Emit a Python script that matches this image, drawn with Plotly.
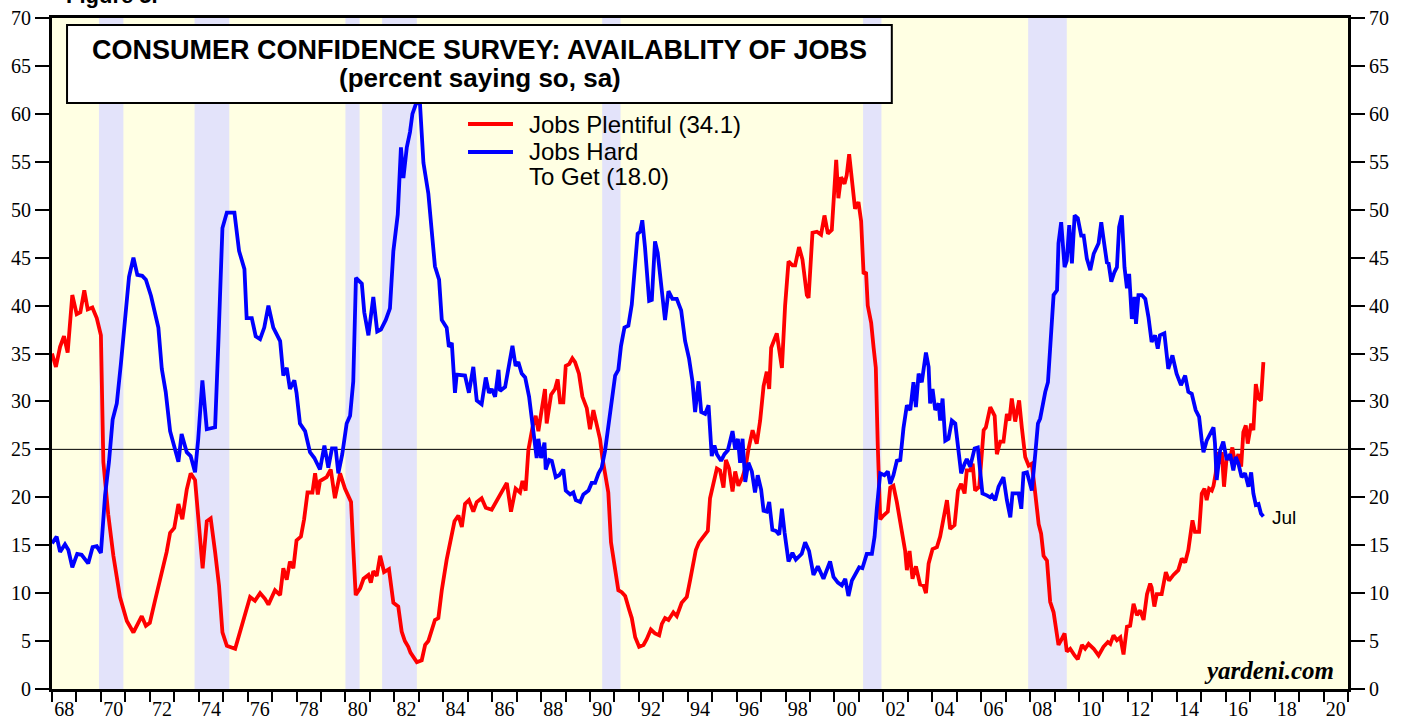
import plotly.graph_objects as go

# ---- data (x = decimal year) ----
plentiful_x = [1968.0,1968.16,1968.33,1968.49,1968.64,1968.83,1969.01,1969.16,1969.32,1969.46,1969.65,1969.83,1970.0,1970.1,1970.3,1970.51,1970.78,1971.06,1971.33,1971.67,1971.84,1972.0,1972.21,1972.49,1972.69,1972.83,1973.0,1973.17,1973.33,1973.51,1973.67,1973.85,1973.98,1974.16,1974.33,1974.49,1974.67,1974.83,1974.97,1975.15,1975.49,1975.76,1976.1,1976.3,1976.51,1976.71,1976.85,1977.12,1977.33,1977.46,1977.6,1977.73,1977.87,1978.0,1978.18,1978.31,1978.45,1978.65,1978.76,1978.87,1978.96,1979.23,1979.4,1979.57,1979.78,1979.98,1980.23,1980.32,1980.42,1980.6,1980.74,1980.94,1981.04,1981.14,1981.28,1981.42,1981.58,1981.78,1981.96,1982.16,1982.3,1982.43,1982.57,1982.66,1982.78,1982.92,1983.12,1983.26,1983.39,1983.53,1983.66,1983.8,1983.94,1984.14,1984.28,1984.46,1984.62,1984.76,1984.89,1985.05,1985.23,1985.37,1985.57,1985.74,1985.98,1986.19,1986.39,1986.6,1986.77,1986.96,1987.14,1987.24,1987.37,1987.48,1987.65,1987.78,1987.89,1988.03,1988.16,1988.23,1988.41,1988.57,1988.68,1988.78,1988.91,1989.01,1989.15,1989.28,1989.39,1989.55,1989.69,1989.87,1990.0,1990.14,1990.28,1990.41,1990.51,1990.62,1990.75,1990.86,1991.03,1991.16,1991.3,1991.44,1991.6,1991.71,1991.85,1992.01,1992.19,1992.32,1992.49,1992.66,1992.83,1992.94,1993.07,1993.21,1993.41,1993.55,1993.75,1993.96,1994.1,1994.23,1994.33,1994.46,1994.64,1994.82,1994.91,1995.05,1995.19,1995.32,1995.46,1995.56,1995.69,1995.83,1995.94,1996.07,1996.24,1996.37,1996.48,1996.65,1996.82,1996.96,1997.1,1997.23,1997.33,1997.41,1997.51,1997.64,1997.85,1997.98,1998.12,1998.28,1998.39,1998.55,1998.69,1998.87,1998.94,1999.1,1999.28,1999.45,1999.59,1999.73,1999.89,1999.99,2000.07,2000.16,2000.27,2000.41,2000.5,2000.6,2000.71,2000.84,2000.98,2001.09,2001.19,2001.29,2001.36,2001.5,2001.6,2001.69,2001.77,2001.87,2002.0,2002.18,2002.28,2002.41,2002.55,2002.73,2002.89,2002.96,2003.07,2003.19,2003.33,2003.5,2003.64,2003.74,2003.85,2004.01,2004.19,2004.32,2004.46,2004.6,2004.73,2004.91,2005.05,2005.18,2005.32,2005.41,2005.55,2005.65,2005.75,2005.92,2006.1,2006.19,2006.37,2006.55,2006.64,2006.78,2006.91,2007.05,2007.15,2007.25,2007.39,2007.55,2007.66,2007.8,2007.94,2008.07,2008.21,2008.35,2008.45,2008.55,2008.69,2008.82,2008.96,2009.05,2009.16,2009.27,2009.41,2009.5,2009.64,2009.82,2009.95,2010.12,2010.25,2010.39,2010.6,2010.8,2011.0,2011.18,2011.28,2011.41,2011.55,2011.69,2011.75,2011.82,2011.96,2012.09,2012.23,2012.37,2012.5,2012.64,2012.78,2012.91,2012.97,2013.08,2013.18,2013.38,2013.55,2013.68,2013.86,2014.06,2014.2,2014.34,2014.47,2014.58,2014.64,2014.74,2014.91,2015.02,2015.13,2015.22,2015.32,2015.43,2015.5,2015.59,2015.67,2015.77,2015.84,2015.93,2016.04,2016.18,2016.27,2016.38,2016.52,2016.63,2016.72,2016.82,2016.9,2017.04,2017.13,2017.23,2017.34,2017.44,2017.54]
plentiful_y = [35.0,33.6,35.7,36.8,35.1,41.1,39.1,39.3,41.6,39.6,39.8,38.7,36.9,23.7,18.2,13.9,9.6,7.1,5.9,7.6,6.6,6.9,9.2,12.0,14.3,16.3,16.8,19.3,17.7,20.8,22.5,21.8,18.2,12.6,17.5,17.8,14.3,10.8,5.9,4.5,4.2,6.5,9.6,9.2,10.0,9.4,8.8,10.3,9.8,12.6,11.4,13.3,12.6,15.5,15.9,17.7,20.5,20.5,22.5,20.3,21.7,22.1,22.9,19.9,22.5,20.9,19.5,14.7,9.8,10.5,11.5,11.9,11.1,12.3,11.8,13.9,12.2,12.5,9.0,8.6,6.0,5.0,4.4,3.8,3.4,2.8,3.0,4.6,5.0,6.2,7.2,7.4,10.3,13.5,15.1,17.5,18.1,16.9,19.3,19.7,18.5,19.5,19.9,18.9,18.7,19.7,20.7,21.5,18.5,20.9,20.5,21.7,20.7,24.9,27.3,28.5,26.9,29.3,31.3,27.7,30.7,31.3,32.3,29.9,29.9,33.7,33.9,34.5,34.1,32.9,30.5,29.3,27.1,29.1,27.3,26.1,24.1,22.5,20.5,15.3,12.1,10.3,10.1,9.7,8.3,7.4,5.4,4.4,4.6,5.2,6.2,5.8,5.6,6.8,7.4,7.2,8.0,7.6,9.0,9.6,11.4,12.9,14.5,15.3,15.9,16.5,19.9,21.7,23.0,22.8,21.0,23.9,23.0,20.6,22.7,21.2,22.1,23.2,25.0,27.0,25.6,28.0,31.6,33.1,31.3,35.6,36.2,37.1,33.5,40.0,44.6,44.2,44.2,46.1,44.8,41.1,40.8,47.6,47.7,47.4,49.4,47.5,47.9,52.1,55.2,51.2,53.4,52.7,53.6,55.8,52.8,50.1,50.8,48.8,43.3,43.5,40.0,38.2,35.6,33.5,25.4,17.7,18.1,18.5,21.0,21.2,19.5,16.6,14.4,12.4,14.4,11.5,12.8,10.9,10.8,10.0,13.1,14.6,14.8,15.9,17.9,19.7,16.7,17.1,20.7,21.4,20.4,22.8,22.8,23.5,20.7,21.1,27.0,27.3,29.4,28.5,24.5,25.8,25.8,28.7,28.0,30.3,27.9,30.1,27.3,24.2,23.3,23.5,20.4,17.2,16.2,13.9,13.4,9.1,8.0,6.6,4.6,5.1,5.8,3.9,4.2,3.5,3.1,4.6,4.2,4.7,4.2,3.5,4.4,4.9,4.7,5.6,5.1,5.4,4.6,3.6,6.5,6.6,8.9,7.7,8.2,7.2,9.9,11.0,10.6,8.6,9.9,9.9,12.2,11.3,11.9,12.4,13.6,13.2,14.5,16.2,17.6,16.4,16.4,20.4,20.9,19.7,20.9,20.7,21.2,22.5,24.7,23.5,24.7,21.1,24.2,24.0,25.2,23.5,24.5,23.2,26.8,27.5,25.6,27.7,27.0,31.8,30.3,30.1,34.1]

hard_x = [1968.0,1968.19,1968.33,1968.53,1968.67,1968.83,1969.03,1969.21,1969.48,1969.66,1969.83,1970.0,1970.17,1970.33,1970.48,1970.65,1970.82,1970.99,1971.15,1971.33,1971.49,1971.69,1971.84,1972.05,1972.35,1972.49,1972.65,1972.83,1973.0,1973.17,1973.3,1973.51,1973.67,1973.85,1973.98,1974.15,1974.33,1974.67,1974.8,1974.97,1975.15,1975.46,1975.65,1975.87,1975.96,1976.17,1976.33,1976.51,1976.68,1976.85,1977.05,1977.33,1977.46,1977.6,1977.73,1977.91,1978.0,1978.14,1978.35,1978.55,1978.73,1978.96,1979.14,1979.3,1979.45,1979.6,1979.71,1979.87,1980.05,1980.19,1980.32,1980.43,1980.67,1980.77,1980.94,1981.14,1981.3,1981.45,1981.65,1981.82,1981.96,1982.14,1982.27,1982.37,1982.51,1982.64,1982.74,1982.92,1983.05,1983.19,1983.39,1983.53,1983.66,1983.83,1983.94,1984.14,1984.23,1984.35,1984.48,1984.55,1984.89,1985.05,1985.23,1985.37,1985.57,1985.74,1985.87,1985.98,1986.12,1986.26,1986.32,1986.53,1986.66,1986.83,1986.96,1987.07,1987.21,1987.35,1987.51,1987.62,1987.73,1987.82,1987.89,1988.0,1988.14,1988.19,1988.33,1988.44,1988.6,1988.74,1988.91,1989.01,1989.19,1989.32,1989.42,1989.6,1989.73,1989.94,1990.07,1990.21,1990.35,1990.48,1990.62,1990.75,1990.89,1991.03,1991.16,1991.27,1991.41,1991.57,1991.71,1991.85,1991.95,1992.05,1992.14,1992.25,1992.42,1992.53,1992.66,1992.77,1992.94,1993.07,1993.21,1993.37,1993.55,1993.73,1993.89,1994.05,1994.19,1994.3,1994.44,1994.55,1994.71,1994.85,1994.98,1995.09,1995.19,1995.36,1995.5,1995.64,1995.83,1995.94,1996.05,1996.14,1996.24,1996.35,1996.48,1996.62,1996.75,1996.86,1997.0,1997.1,1997.23,1997.33,1997.46,1997.6,1997.74,1997.85,1997.96,1998.12,1998.28,1998.42,1998.66,1998.8,1998.96,1999.14,1999.32,1999.55,1999.82,1999.96,2000.14,2000.3,2000.44,2000.57,2000.71,2000.84,2001.01,2001.14,2001.32,2001.53,2001.64,2001.73,2001.87,2002.04,2002.18,2002.28,2002.41,2002.55,2002.69,2002.82,2002.96,2003.1,2003.23,2003.33,2003.44,2003.57,2003.74,2003.85,2003.91,2004.01,2004.12,2004.26,2004.32,2004.42,2004.53,2004.66,2004.8,2004.94,2005.07,2005.18,2005.32,2005.41,2005.55,2005.73,2005.86,2005.96,2006.05,2006.23,2006.37,2006.44,2006.57,2006.71,2006.91,2007.05,2007.19,2007.28,2007.42,2007.53,2007.64,2007.73,2007.87,2007.96,2008.07,2008.21,2008.32,2008.41,2008.51,2008.62,2008.73,2008.86,2008.96,2009.1,2009.16,2009.27,2009.41,2009.5,2009.6,2009.71,2009.82,2009.95,2010.09,2010.19,2010.32,2010.46,2010.6,2010.8,2010.91,2011.0,2011.14,2011.21,2011.32,2011.45,2011.55,2011.64,2011.75,2011.86,2011.96,2012.05,2012.16,2012.27,2012.33,2012.43,2012.57,2012.71,2012.84,2012.97,2013.11,2013.22,2013.31,2013.49,2013.65,2013.82,2013.99,2014.17,2014.34,2014.47,2014.61,2014.77,2014.91,2015.02,2015.09,2015.22,2015.36,2015.5,2015.56,2015.63,2015.77,2015.9,2016.04,2016.18,2016.31,2016.41,2016.52,2016.65,2016.79,2016.93,2017.04,2017.13,2017.23,2017.34,2017.44,2017.54]
hard_y = [15.2,15.9,14.3,15.1,14.5,12.7,14.1,14.0,13.1,14.8,14.9,14.2,20.2,23.7,28.1,29.8,34.0,39.1,43.0,45.0,43.2,43.1,42.7,41.0,37.7,33.4,31.0,26.9,25.1,23.7,26.6,24.7,24.3,22.6,26.1,32.2,27.1,27.3,35.9,48.1,49.7,49.7,45.7,43.8,38.7,38.7,36.8,36.5,37.7,40.0,37.7,36.3,32.7,33.5,31.3,32.2,30.9,27.7,26.9,24.7,24.1,22.9,25.4,23.1,25.1,25.1,22.5,24.5,27.7,28.5,32.1,42.9,42.3,39.3,36.9,40.9,37.3,37.5,38.5,39.7,45.7,49.5,56.5,53.3,56.5,58.1,60.0,61.3,61.0,54.9,51.7,48.1,44.1,42.7,38.5,37.7,35.7,36.1,30.9,32.8,32.7,30.9,33.6,30.1,29.7,32.5,30.9,31.3,30.5,33.3,31.1,31.5,33.3,35.8,33.7,34.1,32.9,32.5,30.5,28.1,26.1,24.1,26.1,24.1,25.7,22.9,23.9,23.8,22.1,22.3,22.9,20.7,20.3,20.5,19.7,19.5,20.3,20.7,21.5,21.5,22.5,23.1,24.9,27.3,29.7,32.7,33.3,35.8,37.7,37.9,40.1,44.3,47.5,47.7,48.9,46.1,40.5,40.6,46.7,45.5,41.3,38.5,41.5,40.7,40.7,39.5,36.3,34.5,32.1,28.9,32.1,28.9,28.7,29.6,24.3,25.4,24.5,23.8,24.5,24.9,26.9,25.0,26.1,23.6,26.1,21.6,23.6,22.7,20.5,22.3,20.8,18.6,18.5,19.5,16.6,16.5,16.1,18.8,16.3,13.3,14.2,13.5,14.1,15.3,14.4,11.9,12.8,11.5,13.3,11.7,11.1,10.8,11.5,9.7,11.3,11.9,12.7,12.6,14.1,14.1,15.9,18.8,22.5,22.3,22.7,21.4,22.3,23.8,23.9,27.2,29.6,29.1,32.0,29.4,32.9,32.0,35.1,33.6,29.8,31.3,29.1,29.8,28.0,30.3,25.9,26.1,28.0,27.7,24.5,22.5,23.5,24.0,23.2,25.1,25.2,22.8,20.4,20.2,20.0,20.2,19.7,21.1,22.1,19.7,17.9,20.4,20.4,20.4,18.8,22.5,22.6,21.8,20.7,24.5,27.7,28.2,29.8,31.0,32.0,36.7,41.1,41.6,46.5,48.7,44.0,44.7,48.4,44.4,49.4,49.1,47.3,47.3,44.9,43.7,45.4,46.5,48.7,47.0,44.5,44.4,42.5,43.5,44.0,48.2,49.4,44.0,41.8,43.3,38.6,40.9,38.1,41.1,41.1,40.7,38.8,36.2,36.9,35.5,36.9,37.1,33.4,34.8,32.9,31.7,32.7,31.0,30.8,29.1,28.4,25.9,24.7,25.9,26.6,27.3,25.6,21.8,24.9,25.8,23.9,24.5,22.8,24.2,23.5,22.1,22.5,21.1,22.6,20.4,19.2,19.3,18.3,18.0]

recession_start = [1969.92, 1973.83, 1980.0, 1981.5, 1990.5, 2001.17, 2007.92]
recession_end = [1970.92, 1975.25, 1980.58, 1982.92, 1991.25, 2001.92, 2009.5]

year_labels = ["68","70","72","74","76","78","80","82","84","86","88","90","92","94","96","98","00","02","04","06","08","10","12","14","16","18","20"]
year_label_pos = [1968.5 + 2 * i for i in range(len(year_labels))]
y_ticks = list(range(0, 75, 5))

title_line1 = "CONSUMER CONFIDENCE SURVEY: AVAILABLITY OF JOBS"
title_line2 = "(percent saying so, sa)"
legend_plentiful = "Jobs Plentiful (34.1)"
legend_hard = ["Jobs Hard", "To Get (18.0)"]

BG = "#FFFFE3"
REC = "#E3E3FA"
RED = "#FF0000"
BLUE = "#0000FF"
SERIF = "Liberation Serif, Times New Roman, serif"
SANS = "Liberation Sans, Arial, Helvetica, sans-serif"

fig = go.Figure()
fig.add_trace(go.Scatter(x=plentiful_x, y=plentiful_y, mode="lines",
                         name=legend_plentiful, showlegend=False,
                         line=dict(color=RED, width=3.8)))
fig.add_trace(go.Scatter(x=hard_x, y=hard_y, mode="lines", yaxis="y2",
                         name=" ".join(legend_hard), showlegend=False,
                         line=dict(color=BLUE, width=3.8)))

shapes = []
for s, e in zip(recession_start, recession_end):
    shapes.append(dict(type="rect", xref="x", yref="paper", x0=s, x1=e, y0=0, y1=1,
                       fillcolor=REC, line=dict(width=0), layer="below"))
shapes.append(dict(type="line", xref="paper", yref="y", x0=0, x1=1, y0=25, y1=25,
                   line=dict(color="black", width=1), layer="below"))
# title box
shapes.append(dict(type="rect", xref="paper", yref="paper", x0=0.0116, x1=0.648,
                   y0=0.8733, y1=0.9896, fillcolor="white",
                   line=dict(color="black", width=2), layer="above"))
# legend samples
shapes.append(dict(type="line", xref="paper", yref="paper", x0=0.3210, x1=0.3557,
                   y0=0.8420, y1=0.8420, line=dict(color=RED, width=4), layer="above"))
shapes.append(dict(type="line", xref="paper", yref="paper", x0=0.3210, x1=0.3557,
                   y0=0.8003, y1=0.8003, line=dict(color=BLUE, width=4), layer="above"))

annotations = [
    dict(xref="paper", yref="paper", x=0.33, y=0.953, text="<b>" + title_line1 + "</b>",
         showarrow=False, font=dict(family=SANS, size=27, color="black"),
         xanchor="center", yanchor="middle"),
    dict(xref="paper", yref="paper", x=0.33, y=0.911, text="<b>" + title_line2 + "</b>",
         showarrow=False, font=dict(family=SANS, size=26, color="black"),
         xanchor="center", yanchor="middle"),
    dict(xref="paper", yref="paper", x=0.3665, y=0.8420, text=legend_plentiful,
         showarrow=False, xanchor="left", yanchor="middle",
         font=dict(family=SANS, size=24, color="black")),
    dict(xref="paper", yref="paper", x=0.3665, y=0.8003, text=legend_hard[0],
         showarrow=False, xanchor="left", yanchor="middle",
         font=dict(family=SANS, size=24, color="black")),
    dict(xref="paper", yref="paper", x=0.3665, y=0.7645, text=legend_hard[1],
         showarrow=False, xanchor="left", yanchor="middle",
         font=dict(family=SANS, size=24, color="black")),
    dict(xref="x", yref="y", x=2017.8, y=17.9, text="Jul", showarrow=False,
         xanchor="left", yanchor="middle", font=dict(family=SANS, size=19, color="black")),
    dict(xref="paper", yref="paper", x=0.991, y=0.004, text="<b><i>yardeni.com</i></b>",
         showarrow=False, xanchor="right", yanchor="bottom",
         font=dict(family=SERIF, size=25, color="black")),
    dict(xref="paper", yref="paper", x=0.009, y=1.0, yshift=8, text="<b>Figure 5.</b>",
         showarrow=False, xanchor="left", yanchor="bottom",
         font=dict(family=SANS, size=22, color="black")),
]

axis_common = dict(range=[0, 70], tickvals=y_ticks, ticks="outside", ticklen=14,
                   tickwidth=1.5, tickcolor="black", showgrid=False, zeroline=False,
                   automargin=False,
                   tickfont=dict(family=SERIF, size=20, color="black"), fixedrange=True)

fig.update_layout(
    width=1407, height=721,
    margin=dict(l=52, r=59, t=18, b=32, autoexpand=False),
    paper_bgcolor="white", plot_bgcolor=BG,
    shapes=shapes, annotations=annotations,
    showlegend=False,
    xaxis=dict(range=[1968, 2021], tickvals=year_label_pos, ticktext=year_labels,
               ticks="", showgrid=False, zeroline=False, automargin=False,
               showline=True, linewidth=3, linecolor="black", mirror=True,
               tickfont=dict(family=SERIF, size=20, color="black"), fixedrange=True,
               minor=dict(tick0=1968, dtick=1, ticks="outside", ticklen=10,
                          tickwidth=2, tickcolor="black", showgrid=False)),
    yaxis=dict(side="left", showline=True, linewidth=3, linecolor="black", mirror=True,
               **axis_common),
    yaxis2=dict(side="right", overlaying="y", showline=True, linewidth=3,
                linecolor="black", **axis_common),
)

fig.write_html("out.html", config={"displayModeBar": False},
               post_script="document.body.style.margin='0px';")
